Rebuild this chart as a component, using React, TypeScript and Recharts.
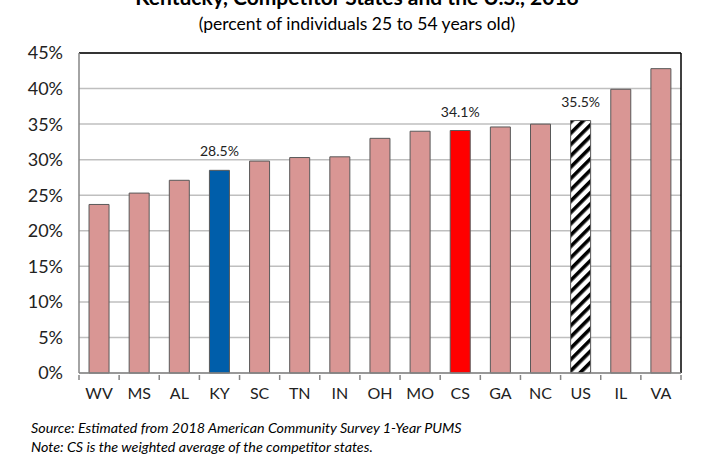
import { BarChart, Bar, Cell, XAxis, YAxis, CartesianGrid, ReferenceLine, LabelList } from "recharts";

const states = ["WV", "MS", "AL", "KY", "SC", "TN", "IN", "OH", "MO", "CS", "GA", "NC", "US", "IL", "VA"];
const shares = [23.7, 25.3, 27.1, 28.5, 29.8, 30.3, 30.4, 33.0, 34.0, 34.1, 34.6, 35.0, 35.5, 39.9, 42.8];
const labeled = ["KY", "CS", "US"];
const yTicks = [0, 5, 10, 15, 20, 25, 30, 35, 40, 45];

const data = states.map((s, i) => ({ state: s, share: shares[i] }));

const FONT = "Lato, 'Open Sans', sans-serif";
const AXIS = "#868686";

function barColor(s: string) {
  if (s === "KY") return "#005EAA";
  if (s === "CS") return "#FF0000";
  if (s === "US") return "url(#usStripes)";
  return "#D99694";
}

function ValueLabel(props: any) {
  const { x, y, width, index } = props;
  if (!labeled.includes(states[index])) return null;
  return (
    <text x={x + width / 2} y={y - 14} textAnchor="middle" fontSize={14} fill="#222" fontFamily={FONT}>
      {shares[index].toFixed(1)}%
    </text>
  );
}

// category label plus Excel-style tick marks between the categories
function StateTick(props: any) {
  const { x, y, payload, index } = props;
  const half = payload.offset || 20;
  const last = index === states.length - 1;
  return (
    <g>
      <line x1={x - half} x2={x - half} y1={y} y2={y + 5} stroke={AXIS} strokeWidth={1.5} />
      {last && <line x1={x + half} x2={x + half} y1={y} y2={y + 5} stroke={AXIS} strokeWidth={1.5} />}
      <text x={x} y={y + 24} textAnchor="middle" fontSize={16} fill="#222" fontFamily={FONT}>
        {payload.value}
      </text>
    </g>
  );
}

export default function App() {
  return (
    <div style={{ position: "absolute", left: 0, top: 0, width: 714, height: 457, background: "#fff", overflow: "hidden", fontFamily: FONT }}>
      <div style={{ position: "absolute", top: -16, left: 0, width: 714, textAlign: "center", fontWeight: 700, fontSize: 21, color: "#000" }}>
        Kentucky, Competitor States and the U.S., 2018
      </div>
      <div style={{ position: "absolute", top: 13, left: 0, width: 714, textAlign: "center", fontSize: 17.5, color: "#000" }}>
        (percent of individuals 25 to 54 years old)
      </div>

      {/* barCategoryGap is taken on each side, so 25% leaves a bar half the category wide */}
      <BarChart
        width={714}
        height={457}
        data={data}
        margin={{ top: 53, right: 33, bottom: 0, left: 0 }}
        barCategoryGap="25%"
      >
        <defs>
          <pattern id="usStripes" width={8} height={8} patternUnits="userSpaceOnUse" patternTransform="rotate(45)">
            <rect width={8} height={8} fill="#fff" />
            <rect width={3.6} height={8} fill="#000" />
          </pattern>
        </defs>
        <CartesianGrid vertical={false} stroke="#BFBFBF" strokeWidth={1.5} />
        <XAxis
          dataKey="state"
          height={84}
          axisLine={{ stroke: AXIS, strokeWidth: 1.5 }}
          tickLine={false}
          tickSize={0}
          interval={0}
          tick={<StateTick />}
        />
        <YAxis
          domain={[0, 45]}
          ticks={yTicks}
          width={79}
          tickFormatter={(v: number) => `${v}%`}
          axisLine={{ stroke: AXIS, strokeWidth: 1.5 }}
          tickLine={false}
          tickSize={14}
          tickMargin={2}
          tick={{ fontSize: 18, fill: "#222", fontFamily: FONT }}
        />
        <Bar dataKey="share" fill="#D99694" stroke="#595959" strokeWidth={1} isAnimationActive={false}>
          {data.map((d) => (
            <Cell key={d.state} fill={barColor(d.state)} />
          ))}
          <LabelList dataKey="share" content={ValueLabel} />
        </Bar>
        <ReferenceLine y={45} stroke="#000" strokeWidth={1.5} />
        <ReferenceLine x="VA" position="end" stroke="#000" strokeWidth={1.5} />
      </BarChart>

      <div style={{ position: "absolute", left: 31, top: 418, fontSize: 14.3, fontStyle: "italic", color: "#000", lineHeight: "19px" }}>
        Source: Estimated from 2018 American Community Survey 1-Year PUMS
        <br />
        Note: CS is the weighted average of the competitor states.
      </div>
    </div>
  );
}
